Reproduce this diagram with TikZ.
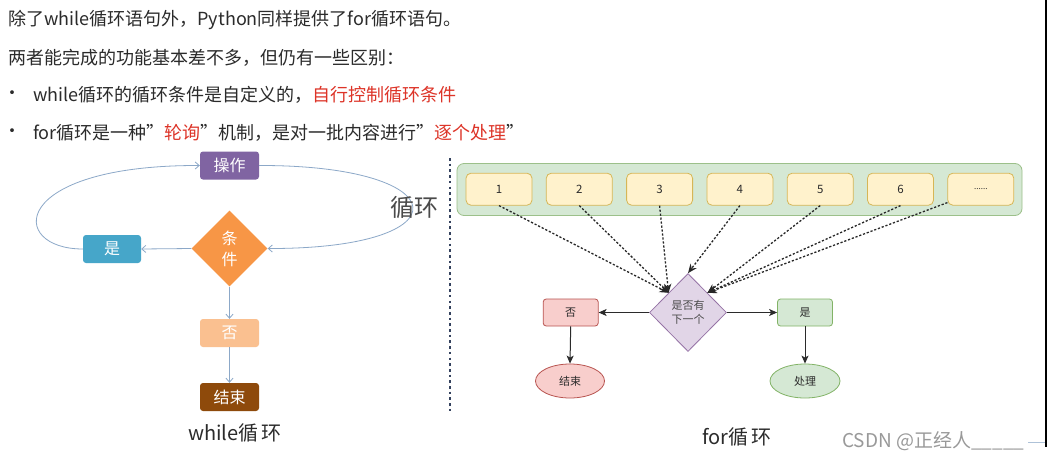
\documentclass[tikz,border=0pt]{standalone}
\usepackage{fontspec}
\setmainfont{Noto Sans CJK SC}
\usetikzlibrary{shapes.geometric,arrows.meta,calc}
\definecolor{txtc}{HTML}{2B2B2B}
\definecolor{hl}{HTML}{DD3428}
\definecolor{opc}{HTML}{8064A2}
\definecolor{condc}{HTML}{F79646}
\definecolor{yesc}{HTML}{46A6C9}
\definecolor{noc}{HTML}{FAC090}
\definecolor{endc}{HTML}{8E4A0B}
\definecolor{lline}{HTML}{8CA8C8}
\definecolor{loopc}{HTML}{4A4A4A}
\definecolor{dotc}{HTML}{34425E}
\definecolor{grpfill}{HTML}{D5E8D4}
\definecolor{grpdraw}{HTML}{9CC08A}
\definecolor{itemfill}{HTML}{FFF2CC}
\definecolor{itemdraw}{HTML}{D6B656}
\definecolor{qfill}{HTML}{E1D5E7}
\definecolor{qdraw}{HTML}{9673A6}
\definecolor{redfill}{HTML}{F8CECC}
\definecolor{reddraw}{HTML}{B85450}
\definecolor{grnfill}{HTML}{D5E8D4}
\definecolor{grndraw}{HTML}{82B366}
\definecolor{wmc}{HTML}{999999}
\begin{document}
\begin{tikzpicture}[x=1pt,y=-1pt,
  txt/.style={inner sep=0pt,text=txtc,font=\fontsize{18}{20}\selectfont},
  lbox/.style={rectangle,rounded corners=3pt,minimum width=59pt,minimum height=28pt,inner sep=0pt,text=white,font=\fontsize{16}{18}\selectfont},
  ldia/.style={diamond,fill=condc,minimum width=76pt,minimum height=76pt,inner sep=0pt,text=white,align=center,font=\fontsize{16}{21}\selectfont},
  larr/.style={draw=lline,line width=0.8pt,-{Straight Barb[length=4pt,width=7pt]}},
  captxt/.style={inner sep=0pt,text=txtc,font=\fontsize{20}{22}\selectfont},
  grp/.style={rectangle,rounded corners=7pt,fill=grpfill,draw=grpdraw,line width=0.8pt,minimum width=565pt,minimum height=52pt,inner sep=0pt},
  item/.style={rectangle,rounded corners=5pt,fill=itemfill,draw=itemdraw,line width=0.8pt,minimum width=66pt,minimum height=32pt,inner sep=0pt,text=txtc,font=\fontsize{11.5}{12}\selectfont},
  qdia/.style={diamond,fill=qfill,draw=qdraw,line width=0.8pt,minimum width=77pt,minimum height=78pt,inner sep=0pt,align=center,text=txtc!85,font=\fontsize{11}{14.5}\selectfont},
  fbox/.style={rectangle,rounded corners=3pt,line width=0.8pt,minimum width=55pt,minimum height=27pt,inner sep=0pt,text=txtc,font=\fontsize{11}{12}\selectfont},
  fell/.style={ellipse,line width=0.8pt,minimum width=69pt,minimum height=34pt,inner sep=0pt,text=txtc,font=\fontsize{11}{12}\selectfont},
  darr/.style={draw=txtc!90!black,line width=1.3pt,dash pattern=on 2.2pt off 1.8pt,-{Stealth[length=9pt,width=7.5pt]}},
  sarr/.style={draw=txtc,line width=1pt,-{Stealth[length=8pt,width=7pt,inset=2pt]}}
]
\useasboundingbox (0,0) rectangle (1047,461);
\fill[white] (0,0) rectangle (1047,461);

% top text
\node[txt,anchor=west] (l1) at (8,20) {除了while循环语句外，Python同样提供了for循环语句。};
\node[txt,anchor=west] (l2) at (8,58) {两者能完成的功能基本差不多，但仍有一些区别：};
\node[txt] (bu1) at (12,95) {•};
\node[txt,anchor=west] (l3) at (33,95) {while循环的循环条件是自定义的，\textcolor{hl}{自行控制循环条件}};
\node[txt] (bu2) at (12,133) {•};
\node[txt,anchor=west] (l4) at (33,133) {for循环是一种”\textcolor{hl}{轮询}”机制，是对一批内容进行”\textcolor{hl}{逐个处理}”};

% left diagram
\node[lbox,fill=opc] (op) at (229.5,165.5) {操作};
\node[ldia] (cond) at (229.5,248.5) {条\\件};
\node[lbox,fill=yesc,minimum width=58pt] (yes) at (112,249) {是};
\node[lbox,fill=noc] (no) at (229.5,333) {否};
\node[lbox,fill=endc] (fin) at (229.5,397) {结束};
\draw[larr] (cond.west) -- (yes.east);
\draw[larr] (yes.west) .. controls (8,249) and (8,165) .. (op.west);
\draw[larr] (op.east) .. controls (458,165) and (467,249) .. (cond.east);
\draw[larr] (cond.south) -- (no.north);
\draw[larr] (no.south) -- (fin.north);
\node[inner sep=0pt,text=loopc,font=\fontsize{24}{26}\selectfont] (loop) at (414,207) {循环};
\node[captxt] (capw) at (235,433) {while循\hspace{3pt}环};

% divider
\draw[dotc,line width=2.6pt,dash pattern=on 2.6pt off 3.1pt] (450,158) -- (450,412);

% right diagram
\node[grp] (grp) at (739.5,189.5) {};
\foreach \i/\t in {1/1,2/2,3/3,4/4,5/5,6/6,7/{\fontsize{8}{9}\selectfont ......}}
  \node[item] (b\i) at ({499+80.3*(\i-1)},189.2) {\t};
\node[qdia] (q) at (688,312.5) {是否有\\下一个};
\node[fbox,fill=redfill,draw=reddraw] (fno) at (570.7,312.5) {否};
\node[fbox,fill=grnfill,draw=grndraw] (fyes) at (805,312.5) {是};
\node[fell,fill=redfill,draw=reddraw] (fend) at (570,381) {结束};
\node[fell,fill=grnfill,draw=grndraw,minimum width=70pt] (fproc) at (805,381) {处理};
\coordinate (qul) at ($(q.north)!0.5!(q.west)$);
\coordinate (qur) at ($(q.north)!0.5!(q.east)$);
\coordinate (b7s) at ($(b7.south west)+(0,-3)$);
\foreach \i in {1,2,3} \draw[darr] (b\i.south) -- (qul);
\draw[darr] (b4.south) -- (q.north);
\foreach \i in {5,6} \draw[darr] (b\i.south) -- (qur);
\draw[darr] (b7s) -- (qur);
\draw[sarr] (q.west) -- (fno.east);
\draw[sarr] (q.east) -- (fyes.west);
\draw[sarr] (fno.south) -- (fend.north);
\draw[sarr] (fyes.south) -- (fproc.north);
\node[captxt] (capf) at (737,437) {for循\hspace{3pt}环};

% watermark and edge
\node[inner sep=0pt,anchor=west,text=wmc,font=\fontsize{19}{20}\selectfont] (wm) at (842,441.5) {CSDN @正经人\_\_\_\_\_};
\fill[black] (1044.6,0) rectangle (1047,447);
\draw[lline!70,line width=0.8pt] (1028,442) -- (1044.6,442);
\end{tikzpicture}
\end{document}
